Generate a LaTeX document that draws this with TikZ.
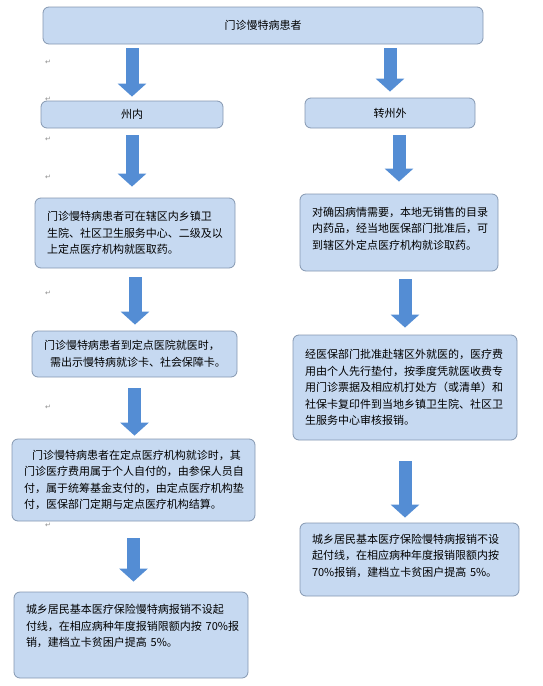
\documentclass[tikz,border=0pt]{standalone}
\usepackage{fontspec}
\newfontfamily\cjk{Noto Sans CJK SC}
\newfontfamily\symfont{DejaVu Sans}
\usetikzlibrary{arrows.meta}

\definecolor{boxfill}{HTML}{C6D9F1}
\definecolor{boxline}{HTML}{8497B0}
\definecolor{arrowblue}{HTML}{548DD4}

\tikzset{
  flowbox/.style={draw=boxline, fill=boxfill, rounded corners=6pt, line width=0.8pt,
    font=\cjk\fontsize{11}{16.5}\selectfont, text=black, inner xsep=12pt, inner ysep=0pt},
  textbox/.style={flowbox, align=left},
  blockarrow/.style={draw=arrowblue, line width=13pt, -{Triangle[length=13pt,width=28pt]}},
  pmark/.style={font=\symfont\fontsize{7}{7}\selectfont, text=black!45, inner sep=0pt}
}

\begin{document}
\begin{tikzpicture}[x=1pt,y=-1pt]
    \useasboundingbox (0,0) rectangle (543,686);

    % Cabecera
    \node[flowbox, minimum width=440pt, minimum height=37pt] (top) at (263,25.5) {门诊慢特病患者};

    % Dos ramas
    \node[flowbox, minimum width=182pt, minimum height=27pt] (zn) at (132,114.5) {州内};
    \node[flowbox, minimum width=170pt, minimum height=30pt] (zw) at (390,113) {转州外};

    % Columna izquierda
    \node[textbox, text width=176pt, minimum height=70pt] (l1) at (135,233) {
        门诊慢特病患者可在辖区内乡镇卫\\
        生院、社区卫生服务中心、二级及以\\
        上定点医疗机构就医取药。};
    \node[textbox, text width=181pt, minimum height=46pt] (l2) at (134.5,354) {
        门诊慢特病患者到定点医院就医时，\\
        \hspace*{6pt}需出示慢特病就诊卡、社会保障卡。};
    \node[textbox, text width=219pt, minimum height=82pt] (l3) at (133.5,480) {
        \hspace*{8pt}门诊慢特病患者在定点医疗机构就诊时，其\\
        门诊医疗费用属于个人自付的，由参保人员自\\
        付，属于统筹基金支付的，由定点医疗机构垫\\
        付，医保部门定期与定点医疗机构结算。};
    \node[textbox, text width=210pt, minimum height=86pt] (l4) at (131,635) {
        城乡居民基本医疗保险慢特病报销不设起\\
        付线，在相应病种年度报销限额内按~70\%报\\
        销，建档立卡贫困户提高~5\%。\\[2pt]\mbox{}};

    % Columna derecha
    \node[textbox, text width=174pt, minimum height=77pt] (r1) at (399,232.5) {
        对确因病情需要，本地无销售的目录\\
        内药品，经当地医保部门批准后，可\\
        到辖区外定点医疗机构就诊取药。\\[-8pt]\mbox{}};
    \node[textbox, text width=200pt, minimum height=105pt] (r2) at (405,387.5) {
        经医保部门批准赴辖区外就医的，医疗费\\
        用由个人先行垫付，按季度凭就医收费专\\
        用门诊票据及相应机打处方（或清单）和\\
        社保卡复印件到当地乡镇卫生院、社区卫\\
        生服务中心审核报销。};
    \node[textbox, text width=195pt, minimum height=73pt] (r3) at (409.5,559.5) {
        城乡居民基本医疗保险慢特病报销不设\\
        起付线，在相应病种年度报销限额内按\\
        70\%报销，建档立卡贫困户提高~5\%。\\[-8pt]\mbox{}};

    % Flechas
    \draw[blockarrow, shorten <=4pt, shorten >=4pt] (top.south -| zn) -- (zn.north);
    \draw[blockarrow, shorten <=4pt, shorten >=6pt] (top.south -| zw) -- (zw.north);
    \draw[blockarrow, shorten <=7pt, shorten >=11pt] (zn.south) -- (zn.south |- l1.north);
    \draw[blockarrow, shorten <=7pt, shorten >=12pt] (r1.north |- zw.south) -- (r1.north);
    \draw[blockarrow, shorten <=9pt, shorten >=6pt] (l1.south) -- (l1.south |- l2.north);
    \draw[blockarrow, shorten <=8pt, shorten >=7pt] (r2.north |- r1.south) -- (r2.north);
    \draw[blockarrow, shorten <=11pt, shorten >=3pt] (l2.south) -- (l2.south |- l3.north);
    \draw[blockarrow, shorten <=21pt, shorten >=5pt] (r2.south) -- (r2.south |- r3.north);
    \draw[blockarrow, shorten <=17pt, shorten >=10pt] (l3.south) -- (l3.south |- l4.north);

    % Marcas de párrafo
    \foreach \y in {62,99,139,177,293,407,525}
        \node[pmark] (pm\y) at (48,\y) {↵};

\end{tikzpicture}
\end{document}
